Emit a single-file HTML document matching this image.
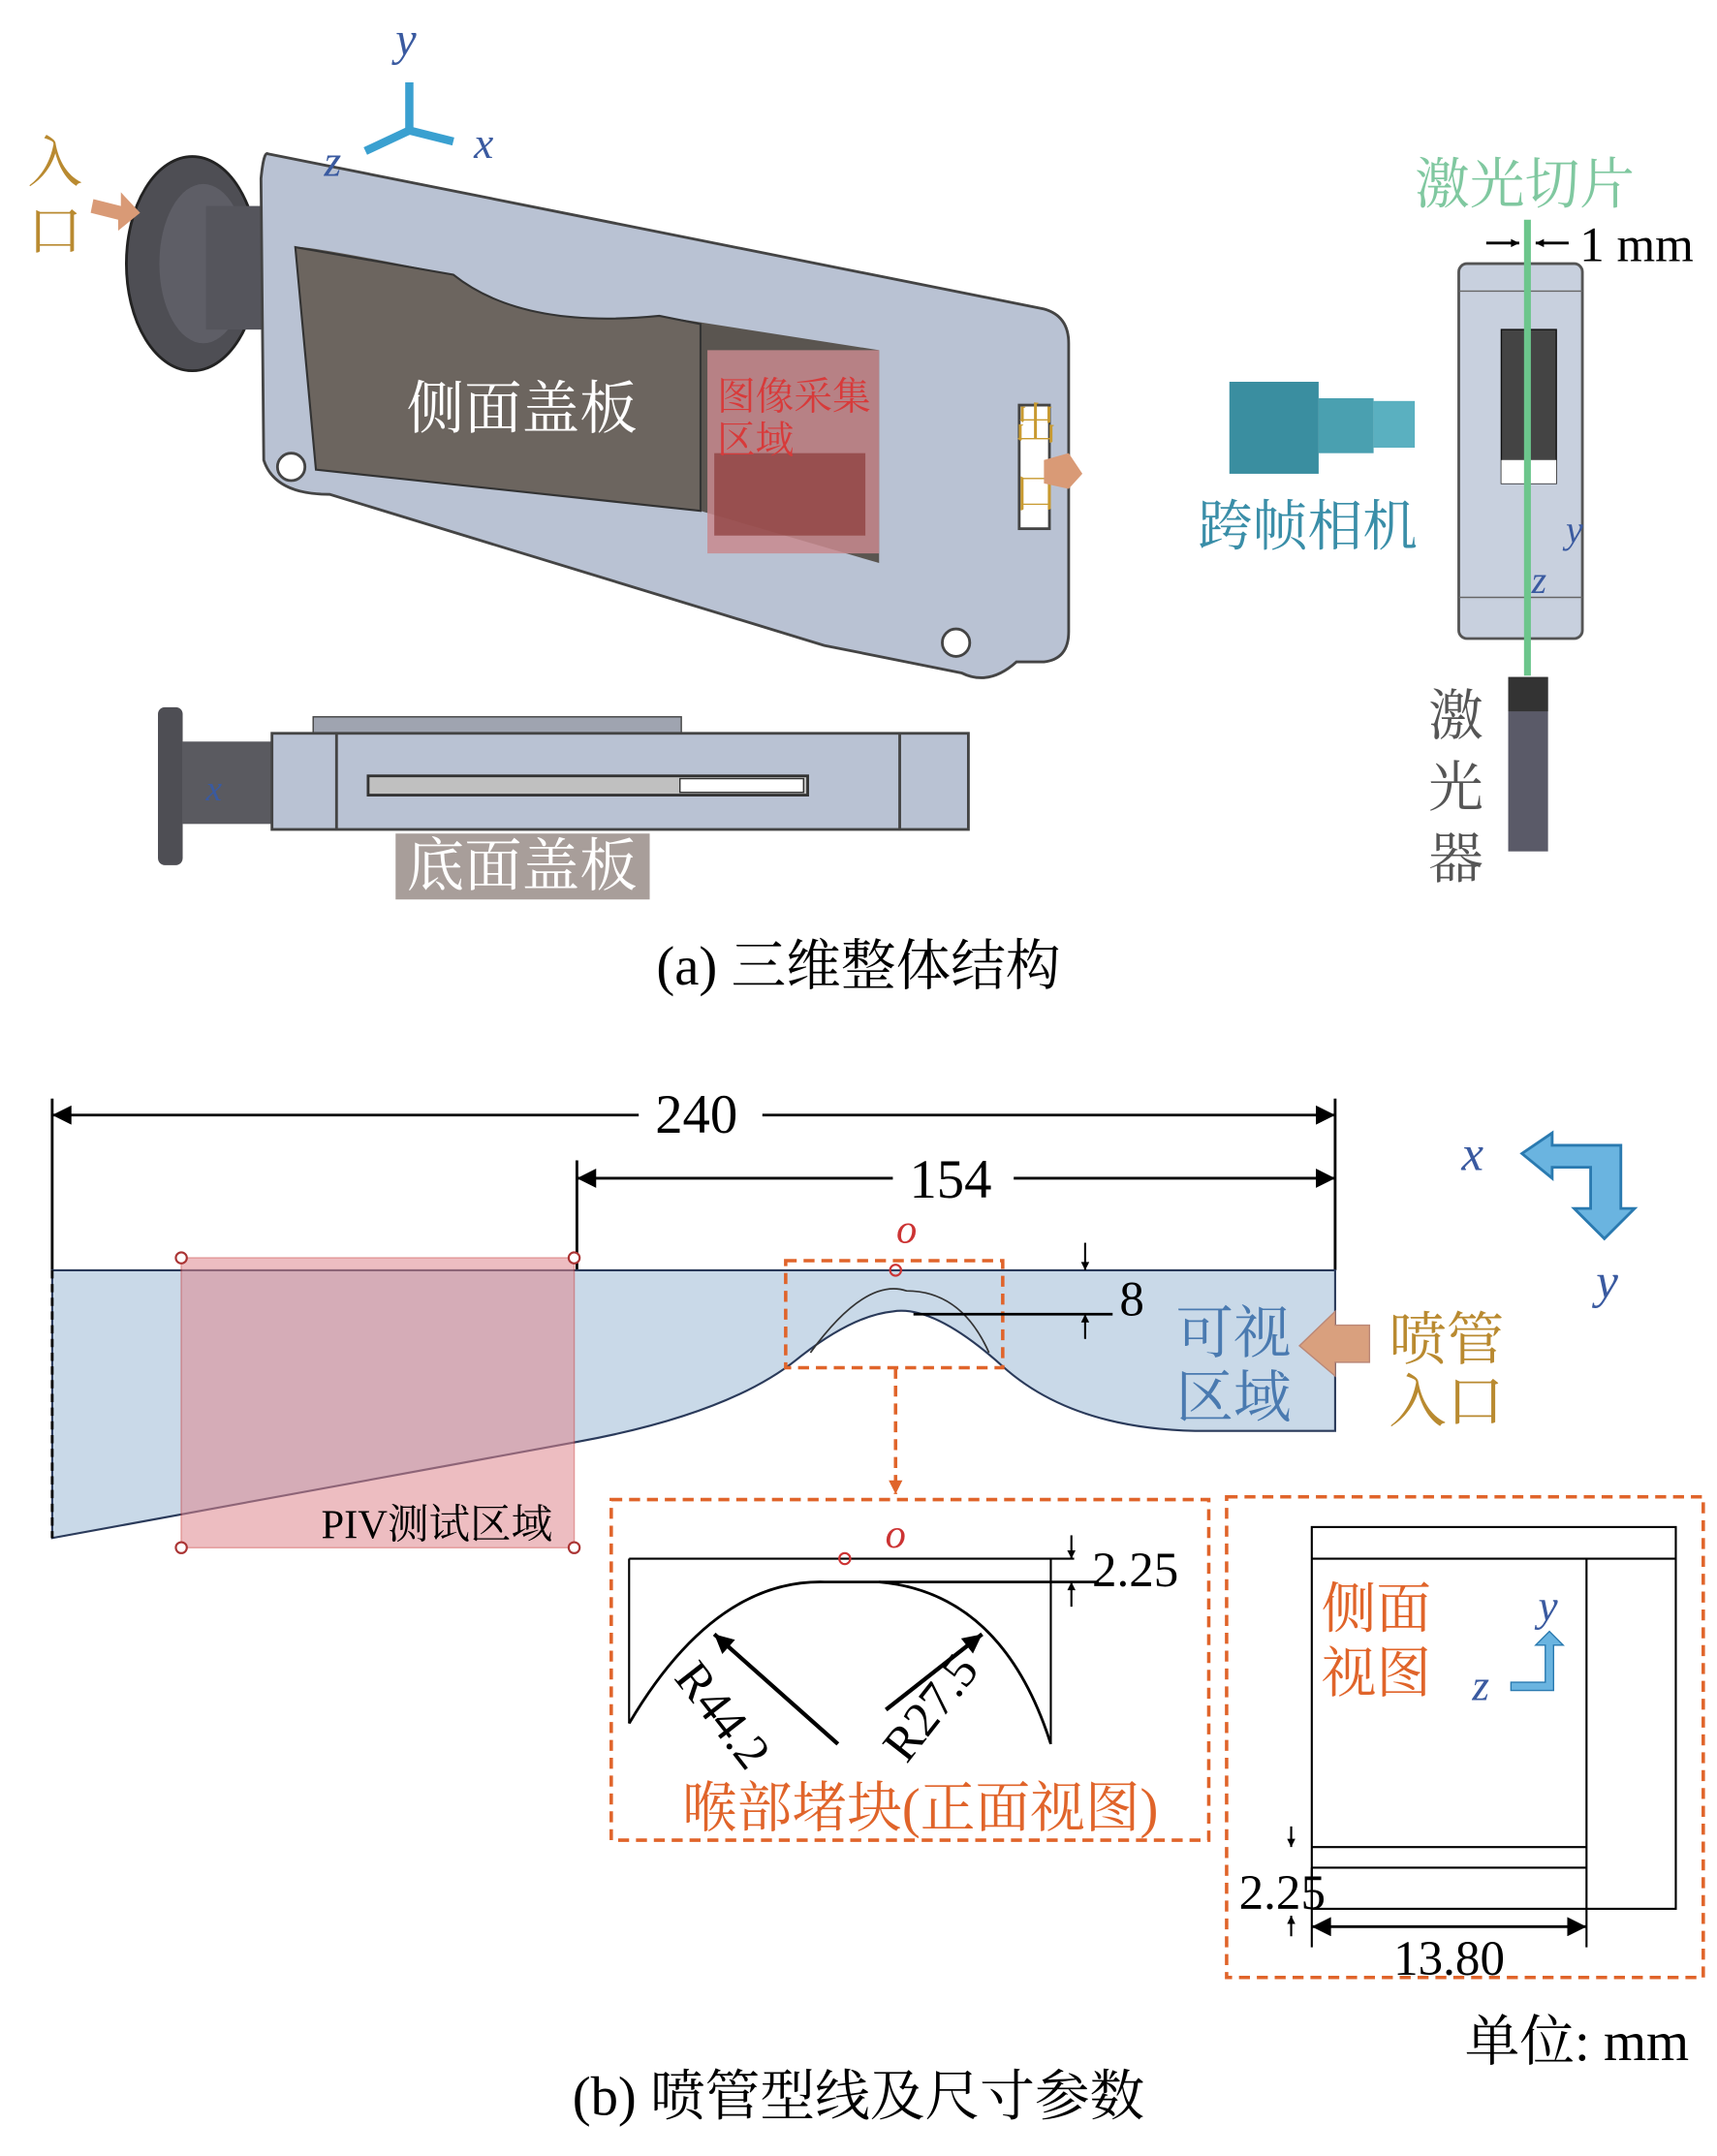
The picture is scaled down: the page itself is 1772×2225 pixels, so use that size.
<!DOCTYPE html>
<html><head><meta charset="utf-8"><style>
html,body{margin:0;padding:0;background:#fff;}
svg{display:block;}
text{font-family:"Liberation Serif","Noto Serif CJK SC",serif;}
</style></head><body>
<svg width="1772" height="2225" viewBox="0 0 1250 1570" preserveAspectRatio="none" xmlns="http://www.w3.org/2000/svg">
<defs>
<marker id="ah" viewBox="0 0 10 10" refX="10" refY="5" markerWidth="8" markerHeight="6" orient="auto-start-reverse" markerUnits="userSpaceOnUse"><path d="M0,0 L10,5 L0,10 z" fill="#000"/></marker>
<marker id="ahb" viewBox="0 0 10 10" refX="10" refY="5" markerWidth="40" markerHeight="14" orient="auto-start-reverse" markerUnits="userSpaceOnUse"><path d="M0,0 L10,5 L0,10 z" fill="#000"/></marker>
<marker id="aho" viewBox="0 0 10 10" refX="10" refY="5" markerWidth="10" markerHeight="10" orient="auto" markerUnits="userSpaceOnUse"><path d="M0,0 L10,5 L0,10 z" fill="#e0642a"/></marker>
</defs>
<!-- ===== Part (a) ===== -->
<!-- flange -->
<ellipse cx="140" cy="192" rx="48" ry="78" fill="#4e4e54" stroke="#222" stroke-width="2"/>
<ellipse cx="148" cy="192" rx="32" ry="58" fill="#5e5e66"/>
<rect x="150" y="150" width="50" height="90" fill="#55555c"/>
<!-- body -->
<path d="M195,112 L760,225 Q778,230 778,250 L778,460 Q778,480 760,482 L740,482 Q720,500 700,490 L600,470 L240,360 Q200,360 192,335 L190,130 Q192,110 195,112 z" fill="#b9c2d3" stroke="#444" stroke-width="2"/>
<path d="M215,180 Q220,178 330,200 Q380,240 480,230 L640,255 L640,410 L510,372 L230,342 z" fill="#5a5550"/>
<path d="M215,180 L330,200 Q380,240 480,230 L510,236 L510,372 L230,342 z" fill="#6c655f" stroke="#333" stroke-width="1.5"/>
<rect x="515" y="255" width="125" height="148" fill="#c88a8e" opacity="0.85"/>
<rect x="520" y="330" width="110" height="60" fill="#8a3a38" opacity="0.7"/>
<circle cx="212" cy="340" r="10" fill="#fff" stroke="#444" stroke-width="2"/>
<circle cx="696" cy="468" r="10" fill="#fff" stroke="#444" stroke-width="2"/>
<rect x="742" y="295" width="22" height="90" fill="#fff" stroke="#444" stroke-width="2"/>
<text x="380" y="312" font-size="42" fill="#fff" text-anchor="middle">侧面盖板</text>
<text x="522" y="298" font-size="28" fill="#d83a3a">图像采集</text>
<text x="522" y="330" font-size="28" fill="#d83a3a">区域</text>
<text x="738" y="320" font-size="32" fill="#c89a30">出</text>
<text x="738" y="370" font-size="32" fill="#c89a30">口</text>
<path d="M760,335 L778,330 L788,345 L778,356 L760,352 z" fill="#d99a76"/>
<text x="20" y="132" font-size="40" fill="#b98a30">入</text>
<text x="20" y="182" font-size="40" fill="#b98a30">口</text>
<path d="M68,145 L88,150 L88,140 L102,155 L86,168 L86,160 L66,155 z" fill="#d99a76"/>
<!-- axes -->
<g stroke="#3aa0d0" stroke-width="6" fill="none"><line x1="298" y1="95" x2="298" y2="60"/><line x1="298" y1="95" x2="330" y2="103"/><line x1="298" y1="95" x2="266" y2="110"/></g>
<text x="288" y="40" font-size="34" font-style="italic" fill="#3a5aa0">y</text>
<text x="345" y="115" font-size="32" font-style="italic" fill="#3a5aa0">x</text>
<text x="236" y="128" font-size="32" font-style="italic" fill="#3a5aa0">z</text>
<!-- bottom view -->
<rect x="115" y="515" width="18" height="115" rx="5" fill="#4e4e54"/>
<rect x="133" y="540" width="65" height="60" fill="#5a5a60"/>
<rect x="228" y="522" width="268" height="12" fill="#9fa4b0" stroke="#444"/>
<rect x="198" y="534" width="507" height="70" fill="#b9c2d3" stroke="#444" stroke-width="2"/>
<line x1="245" y1="534" x2="245" y2="604" stroke="#444" stroke-width="2"/>
<line x1="655" y1="534" x2="655" y2="604" stroke="#444" stroke-width="2"/>
<rect x="268" y="565" width="320" height="14" fill="#c0c0c0" stroke="#333" stroke-width="2"/>
<rect x="495" y="567" width="90" height="10" fill="#fff" stroke="#333"/>
<text x="150" y="583" font-size="26" font-style="italic" fill="#3a5aa0">x</text>
<rect x="288" y="607" width="185" height="48" fill="#a89e9a"/>
<text x="380" y="645" font-size="42" fill="#fff" text-anchor="middle">底面盖板</text>
<!-- right: laser sheet setup -->
<text x="1110" y="148" font-size="40" fill="#80c8a0" text-anchor="middle">激光切片</text>
<text x="1150" y="190" font-size="36" fill="#000">1 mm</text>
<line x1="1082" y1="177" x2="1106" y2="177" stroke="#000" stroke-width="2" marker-end="url(#ah)"/>
<line x1="1142" y1="177" x2="1118" y2="177" stroke="#000" stroke-width="2" marker-end="url(#ah)"/>
<rect x="1062" y="192" width="90" height="273" rx="6" fill="#c8d0de" stroke="#555" stroke-width="2"/>
<line x1="1062" y1="212" x2="1152" y2="212" stroke="#666"/>
<line x1="1062" y1="435" x2="1152" y2="435" stroke="#666"/>
<rect x="1093" y="240" width="40" height="112" fill="#444" stroke="#111"/>
<rect x="1093" y="335" width="40" height="17" fill="#fff"/>
<line x1="1112" y1="160" x2="1112" y2="492" stroke="#6cc68c" stroke-width="5"/>
<text x="1140" y="395" font-size="28" font-style="italic" fill="#3a5aa0">y</text>
<text x="1115" y="432" font-size="28" font-style="italic" fill="#3a5aa0">z</text>
<rect x="895" y="278" width="65" height="67" fill="#3a8ea0"/>
<rect x="960" y="290" width="40" height="40" fill="#4aa0b0"/>
<rect x="1000" y="292" width="30" height="34" fill="#5ab0c0"/>
<text x="952" y="397" font-size="40" fill="#3a8ea8" text-anchor="middle">跨帧相机</text>
<rect x="1098" y="493" width="29" height="127" fill="#5a5a68"/>
<rect x="1098" y="493" width="29" height="25" fill="#333"/>
<text x="1040" y="535" font-size="40" fill="#555">激</text>
<text x="1040" y="587" font-size="40" fill="#555">光</text>
<text x="1040" y="639" font-size="40" fill="#555">器</text>
<text x="625" y="717" font-size="40" text-anchor="middle">(a) 三维整体结构</text>
<!-- ===== Part (b) ===== -->
<g stroke="#000" stroke-width="2">
<line x1="38" y1="800" x2="38" y2="925"/><line x1="420" y1="845" x2="420" y2="925"/><line x1="972" y1="800" x2="972" y2="925"/>
<line x1="38" y1="812" x2="465" y2="812" marker-start="url(#ahb)"/><line x1="555" y1="812" x2="972" y2="812" marker-end="url(#ahb)"/>
<line x1="420" y1="858" x2="650" y2="858" marker-start="url(#ahb)"/><line x1="738" y1="858" x2="972" y2="858" marker-end="url(#ahb)"/>
</g>
<text x="507" y="825" font-size="40" text-anchor="middle">240</text>
<text x="692" y="872" font-size="40" text-anchor="middle">154</text>
<!-- nozzle shape -->
<path d="M38,925 L972,925 L972,1042 L870,1042 Q780,1040 730,995 Q680,950 650,955 Q620,958 580,990 Q530,1030 420,1050 L38,1120 z" fill="#c9d9e8" stroke="#2a3a5a" stroke-width="1.5"/>
<line x1="38" y1="925" x2="38" y2="1120" stroke="#000" stroke-width="2" stroke-dasharray="6,4"/>
<rect x="132" y="916" width="286" height="211" fill="#e08890" opacity="0.55" stroke="#c44" stroke-width="1"/>
<g fill="#fff" stroke="#a33" stroke-width="1.5"><circle cx="132" cy="916" r="4"/><circle cx="418" cy="916" r="4"/><circle cx="132" cy="1127" r="4"/><circle cx="418" cy="1127" r="4"/></g>
<text x="318" y="1120" font-size="30" text-anchor="middle">PIV测试区域</text>
<rect x="572" y="918" width="158" height="78" fill="none" stroke="#e0642a" stroke-width="2.5" stroke-dasharray="8,5"/>
<path d="M590,985 Q630,930 660,940 Q700,940 720,985" fill="none" stroke="#333" stroke-width="1.2"/>
<line x1="665" y1="957" x2="810" y2="957" stroke="#000" stroke-width="2"/>
<circle cx="652" cy="925" r="4" fill="none" stroke="#c33" stroke-width="1.5"/>
<text x="660" y="905" font-size="30" font-style="italic" fill="#c33" text-anchor="middle">o</text>
<line x1="790" y1="905" x2="790" y2="925" stroke="#000" stroke-width="1.5" marker-end="url(#ah)"/>
<line x1="790" y1="975" x2="790" y2="957" stroke="#000" stroke-width="1.5" marker-end="url(#ah)"/>
<text x="815" y="958" font-size="36">8</text>
<text x="898" y="985" font-size="42" fill="#4a7ab0" text-anchor="middle">可视</text>
<text x="898" y="1032" font-size="42" fill="#4a7ab0" text-anchor="middle">区域</text>
<path d="M997,965 L972,965 L972,955 L946,980 L972,1002 L972,992 L997,992 z" fill="#d9a07e" stroke="#b87" />
<text x="1053" y="990" font-size="42" fill="#b98a30" text-anchor="middle">喷管</text>
<text x="1053" y="1035" font-size="42" fill="#b98a30" text-anchor="middle">入口</text>
<path d="M1108,840 L1130,825 L1130,834 L1180,834 L1180,880 L1190,880 L1168,902 L1146,880 L1158,880 L1158,850 L1130,850 L1130,858 z" fill="#6ab4e0" stroke="#2a7ab0" stroke-width="2"/>
<text x="1072" y="852" font-size="36" font-style="italic" fill="#3a5aa0" text-anchor="middle">x</text>
<text x="1170" y="945" font-size="36" font-style="italic" fill="#3a5aa0" text-anchor="middle">y</text>
<line x1="652" y1="996" x2="652" y2="1088" stroke="#e0642a" stroke-width="2.5" stroke-dasharray="8,5" marker-end="url(#aho)"/>
<!-- throat detail box -->
<rect x="445" y="1092" width="435" height="248" fill="none" stroke="#e0642a" stroke-width="2.5" stroke-dasharray="8,5"/>
<line x1="458" y1="1135" x2="782" y2="1135" stroke="#000" stroke-width="1.5"/>
<line x1="458" y1="1135" x2="458" y2="1255" stroke="#000" stroke-width="1.5"/>
<line x1="765" y1="1135" x2="765" y2="1270" stroke="#000" stroke-width="1.5"/>
<path d="M458,1255 Q520,1150 600,1152 L640,1152 Q730,1160 765,1270" fill="none" stroke="#000" stroke-width="2"/>
<line x1="640" y1="1152" x2="800" y2="1152" stroke="#000" stroke-width="2"/>
<circle cx="615" cy="1135" r="4" fill="none" stroke="#c33" stroke-width="1.5"/>
<text x="652" y="1127" font-size="30" font-style="italic" fill="#c33" text-anchor="middle">o</text>
<line x1="780" y1="1118" x2="780" y2="1135" stroke="#000" stroke-width="1.5" marker-end="url(#ah)"/>
<line x1="780" y1="1170" x2="780" y2="1152" stroke="#000" stroke-width="1.5" marker-end="url(#ah)"/>
<text x="795" y="1155" font-size="36">2.25</text>
<line x1="610" y1="1270" x2="520" y2="1190" stroke="#000" stroke-width="3" marker-end="url(#ahb)"/>
<line x1="645" y1="1245" x2="715" y2="1190" stroke="#000" stroke-width="3" marker-end="url(#ahb)"/>
<text x="490" y="1222" font-size="36" transform="rotate(52 490 1222)">R44.2</text>
<text x="660" y="1285" font-size="36" transform="rotate(-52 660 1285)">R27.5</text>
<text x="670" y="1330" font-size="40" fill="#e0642a" text-anchor="middle">喉部堵块(正面视图)</text>
<!-- side view box -->
<rect x="893" y="1090" width="347" height="350" fill="none" stroke="#e0642a" stroke-width="2.5" stroke-dasharray="8,5"/>
<rect x="955" y="1112" width="265" height="278" fill="none" stroke="#000" stroke-width="1.5"/>
<line x1="955" y1="1135" x2="1220" y2="1135" stroke="#000" stroke-width="1.5"/>
<line x1="1155" y1="1135" x2="1155" y2="1418" stroke="#000" stroke-width="1.5"/>
<line x1="955" y1="1345" x2="1155" y2="1345" stroke="#000" stroke-width="1.5"/>
<line x1="955" y1="1360" x2="1155" y2="1360" stroke="#000" stroke-width="1.5"/>
<line x1="955" y1="1360" x2="955" y2="1418" stroke="#000" stroke-width="1.5"/>
<text x="962" y="1185" font-size="40" fill="#e0642a">侧面</text>
<text x="962" y="1232" font-size="40" fill="#e0642a">视图</text>
<path d="M1125,1225 L1125,1198 L1118,1198 L1128,1188 L1138,1198 L1131,1198 L1131,1231 L1100,1231 L1100,1225 z" fill="#6ab4e0" stroke="#2a7ab0"/>
<text x="1127" y="1180" font-size="32" font-style="italic" fill="#3a5aa0" text-anchor="middle">y</text>
<text x="1078" y="1238" font-size="32" font-style="italic" fill="#3a5aa0" text-anchor="middle">z</text>
<line x1="940" y1="1330" x2="940" y2="1345" stroke="#000" stroke-width="1.5" marker-end="url(#ah)"/>
<line x1="940" y1="1410" x2="940" y2="1395" stroke="#000" stroke-width="1.5" marker-end="url(#ah)"/>
<text x="902" y="1390" font-size="36">2.25</text>
<line x1="955" y1="1403" x2="1155" y2="1403" stroke="#000" stroke-width="2" marker-start="url(#ahb)" marker-end="url(#ahb)"/>
<text x="1055" y="1438" font-size="36" text-anchor="middle">13.80</text>
<text x="1148" y="1500" font-size="40" text-anchor="middle">单位: mm</text>
<text x="625" y="1540" font-size="40" text-anchor="middle">(b) 喷管型线及尺寸参数</text>
</svg>
</body></html>
